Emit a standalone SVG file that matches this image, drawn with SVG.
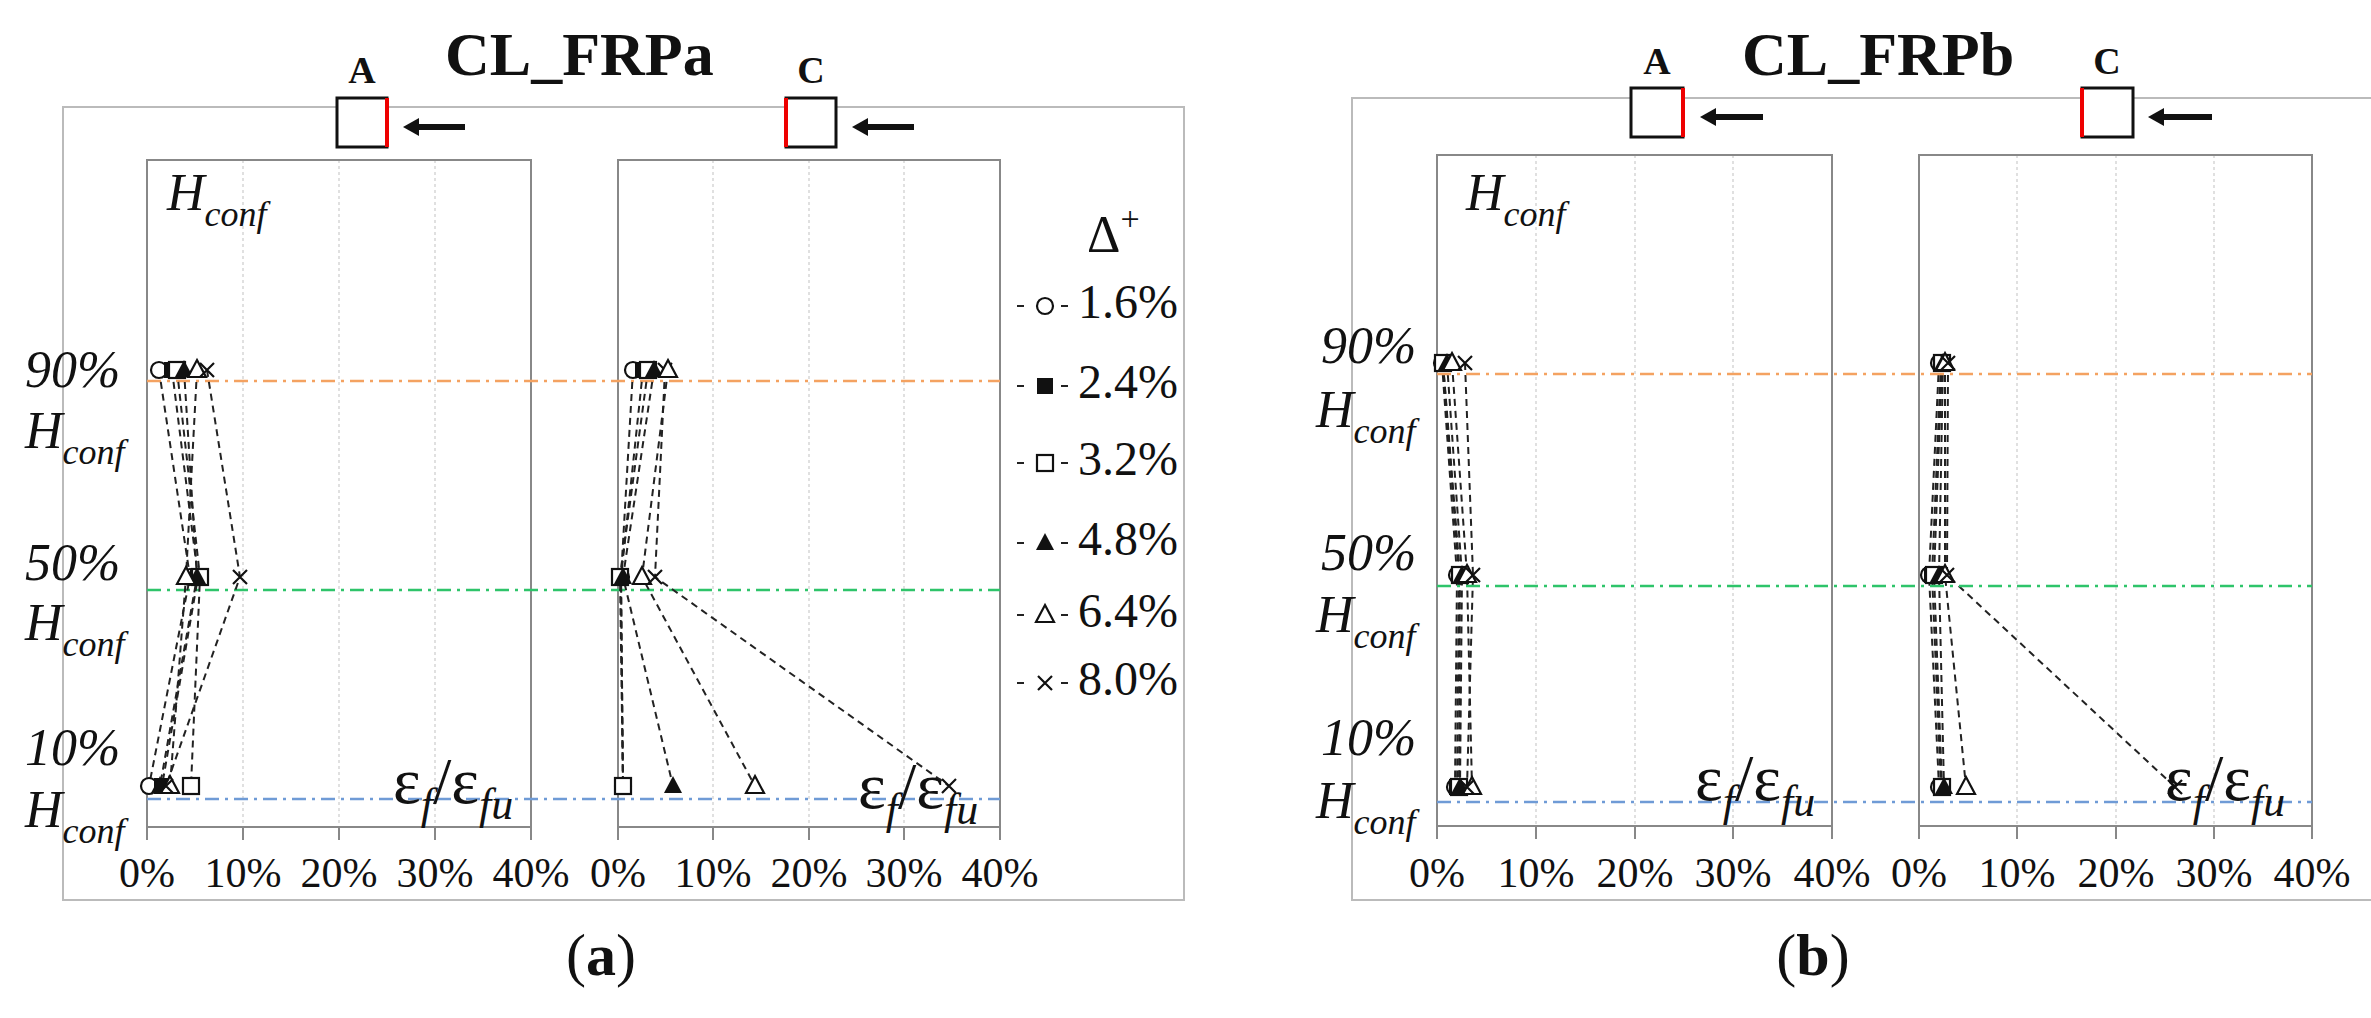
<svg xmlns="http://www.w3.org/2000/svg" xmlns:xlink="http://www.w3.org/1999/xlink" width="2371" height="1018" viewBox="0 0 2371 1018">
<style>
text{font-family:"Liberation Serif","Times New Roman",serif;fill:#111}
.frame{fill:none;stroke:#bbb;stroke-width:2}
.box{fill:none;stroke:#888;stroke-width:2}
.grid{stroke:#ccc;stroke-width:1.2;stroke-dasharray:3 3}
.tick{stroke:#888;stroke-width:2}
.or{stroke:#f4a261;stroke-width:2.5;stroke-dasharray:14 6 3 6;fill:none}
.gr{stroke:#2ec46a;stroke-width:2.5;stroke-dasharray:14 6 3 6;fill:none}
.bl{stroke:#6f9bd6;stroke-width:2.5;stroke-dasharray:14 6 3 6;fill:none}
.ser{fill:none;stroke:#222;stroke-width:2;stroke-dasharray:7 5}
.tk{font-size:42px;text-anchor:middle}
.lab{font-size:52px;font-style:italic}
.sub{font-size:36px;font-style:italic}
.eps{font-size:66px}
.esub{font-size:44px;font-style:italic}
.leg{font-size:48px}
.ttl{font-size:62px;font-weight:bold}
.sec{font-size:38px;font-weight:bold;text-anchor:middle}
.cap{font-size:60px;text-anchor:middle}
.sq{fill:#fff;stroke:#111;stroke-width:3}
.red{stroke:#e00;stroke-width:4}
.arr{stroke:#111;stroke-width:6}
</style>
<defs>
<g id="m-circ"><circle r="8" fill="#fff" stroke="#111" stroke-width="2.2"/></g>
<g id="m-fsq"><rect x="-8" y="-8" width="16" height="16" fill="#111"/></g>
<g id="m-osq"><rect x="-8" y="-8" width="16" height="16" fill="#fff" stroke="#111" stroke-width="2.2"/></g>
<g id="m-ftri"><polygon points="0,-10 9,7 -9,7" fill="#111"/></g>
<g id="m-otri"><polygon points="0,-10 9,7 -9,7" fill="#fff" stroke="#111" stroke-width="2.2"/></g>
<g id="m-x"><path d="M-7,-7 L7,7 M-7,7 L7,-7" stroke="#111" stroke-width="2.2"/></g>
<polygon id="ah" points="0,0 16,-9 16,9" fill="#111"/>
</defs>

<!-- ===== Panel (a) ===== -->
<g id="panel-a">
<rect class="frame" x="63" y="107" width="1121" height="793"/>
<text class="ttl" x="445" y="75">CL_FRPa</text>
<g id="sec-a-A">
<text class="sec" x="362" y="83">A</text>
<rect class="sq" x="337" y="98" width="50" height="49"/>
<line class="red" x1="387" y1="98" x2="387" y2="147"/>
<line class="arr" x1="415" y1="127" x2="465" y2="127"/><use href="#ah" x="403" y="127"/>
</g>
<g id="sec-a-C">
<text class="sec" x="811" y="83">C</text>
<rect class="sq" x="786" y="98" width="50" height="49"/>
<line class="red" x1="786" y1="98" x2="786" y2="147"/>
<line class="arr" x1="864" y1="127" x2="914" y2="127"/><use href="#ah" x="852" y="127"/>
</g>
<g>
<line class="grid" x1="243" y1="160" x2="243" y2="827"/><line class="grid" x1="339" y1="160" x2="339" y2="827"/><line class="grid" x1="435" y1="160" x2="435" y2="827"/>
<line class="grid" x1="713" y1="160" x2="713" y2="827"/><line class="grid" x1="809" y1="160" x2="809" y2="827"/><line class="grid" x1="904" y1="160" x2="904" y2="827"/>
</g>
<rect class="box" x="147" y="160" width="384" height="667"/>
<rect class="box" x="618" y="160" width="382" height="667"/>
<path class="tick" d="M147,827v13M243,827v13M339,827v13M435,827v13M531,827v13M618,827v13M713,827v13M809,827v13M904,827v13M1000,827v13"/>
<g>
<text class="tk" x="147" y="887">0%</text><text class="tk" x="243" y="887">10%</text><text class="tk" x="339" y="887">20%</text><text class="tk" x="435" y="887">30%</text><text class="tk" x="531" y="887">40%</text>
<text class="tk" x="618" y="887">0%</text><text class="tk" x="713" y="887">10%</text><text class="tk" x="809" y="887">20%</text><text class="tk" x="904" y="887">30%</text><text class="tk" x="1000" y="887">40%</text>
</g>
<line class="or" x1="147" y1="381" x2="1000" y2="381"/>
<line class="gr" x1="147" y1="590" x2="1000" y2="590"/>
<line class="bl" x1="147" y1="799" x2="1000" y2="799"/>
<text class="lab" x="167" y="210">H<tspan class="sub" dy="16">conf</tspan></text>
<text class="lab" x="25" y="387">90%</text>
<text class="lab" x="25" y="448">H<tspan class="sub" dy="16">conf</tspan></text>
<text class="lab" x="25" y="580">50%</text>
<text class="lab" x="25" y="640">H<tspan class="sub" dy="16">conf</tspan></text>
<text class="lab" x="25" y="765">10%</text>
<text class="lab" x="25" y="827">H<tspan class="sub" dy="16">conf</tspan></text>
<text class="eps" x="393" y="803">ε<tspan class="esub" dy="16">f</tspan><tspan dy="-16">/ε</tspan><tspan class="esub" dy="16">fu</tspan></text>
<text class="eps" x="858" y="808">ε<tspan class="esub" dy="16">f</tspan><tspan dy="-16">/ε</tspan><tspan class="esub" dy="16">fu</tspan></text>
<g id="legend">
<text x="1087" y="252" style="font-size:52px">Δ<tspan dy="-22" style="font-size:34px">+</tspan></text>
<g><path class="ser" d="M1017,306h12M1061,306h12" stroke-dasharray="none"/><use href="#m-circ" x="1045" y="306"/><text class="leg" x="1078" y="318">1.6%</text></g>
<g><path class="ser" d="M1017,386h12M1061,386h12" stroke-dasharray="none"/><use href="#m-fsq" x="1045" y="386"/><text class="leg" x="1078" y="398">2.4%</text></g>
<g><path class="ser" d="M1017,463h12M1061,463h12" stroke-dasharray="none"/><use href="#m-osq" x="1045" y="463"/><text class="leg" x="1078" y="475">3.2%</text></g>
<g><path class="ser" d="M1017,543h12M1061,543h12" stroke-dasharray="none"/><use href="#m-ftri" x="1045" y="543"/><text class="leg" x="1078" y="555">4.8%</text></g>
<g><path class="ser" d="M1017,615h12M1061,615h12" stroke-dasharray="none"/><use href="#m-otri" x="1045" y="615"/><text class="leg" x="1078" y="627">6.4%</text></g>
<g><path class="ser" d="M1017,683h12M1061,683h12" stroke-dasharray="none"/><use href="#m-x" x="1045" y="683"/><text class="leg" x="1078" y="695">8.0%</text></g>
</g>
<text class="cap" x="601" y="975">(<tspan font-weight="bold">a</tspan>)</text>
</g>

<g id="connectors">
<path class="ser" d="M159,370L190,577L149,786"/>
<path class="ser" d="M172,370L198,577L162,786"/>
<path class="ser" d="M177,370L200,577L191,786"/>
<path class="ser" d="M184,370L197,577L160,786"/>
<path class="ser" d="M197,370L186,577L170,786"/>
<path class="ser" d="M207,370L240,577L166,786"/>
<path class="ser" d="M633,370L621,577L623,786"/>
<path class="ser" d="M643,370L621,577L623,786"/>
<path class="ser" d="M648,370L620,577L623,786"/>
<path class="ser" d="M654,370L623,577L673,786"/>
<path class="ser" d="M668,370L642,577L755,786"/>
<path class="ser" d="M665,370L655,577L949,786"/>
<path class="ser" d="M1442,363L1457,575L1455,787"/>
<path class="ser" d="M1443,363L1459,575L1457,787"/>
<path class="ser" d="M1443,363L1460,575L1459,787"/>
<path class="ser" d="M1447,363L1462,575L1460,787"/>
<path class="ser" d="M1452,363L1467,575L1472,787"/>
<path class="ser" d="M1465,363L1473,575L1467,787"/>
<path class="ser" d="M1939,363L1929,575L1939,787"/>
<path class="ser" d="M1941,363L1932,575L1941,787"/>
<path class="ser" d="M1942,363L1934,575L1942,787"/>
<path class="ser" d="M1943,363L1939,575L1944,787"/>
<path class="ser" d="M1945,363L1945,575L1966,787"/>
<path class="ser" d="M1948,363L1947,575L2175,787"/>
</g>

<g id="points-a">
<use href="#m-circ" x="159" y="370"/><use href="#m-fsq" x="172" y="370"/><use href="#m-osq" x="177" y="370"/><use href="#m-ftri" x="184" y="370"/><use href="#m-otri" x="197" y="370"/><use href="#m-x" x="207" y="370"/>
<use href="#m-circ" x="190" y="577"/><use href="#m-fsq" x="198" y="577"/><use href="#m-osq" x="200" y="577"/><use href="#m-ftri" x="197" y="577"/><use href="#m-otri" x="186" y="577"/><use href="#m-x" x="240" y="577"/>
<use href="#m-circ" x="149" y="786"/><use href="#m-fsq" x="162" y="786"/><use href="#m-osq" x="191" y="786"/><use href="#m-ftri" x="160" y="786"/><use href="#m-otri" x="170" y="786"/><use href="#m-x" x="166" y="786"/>
<use href="#m-circ" x="633" y="370"/><use href="#m-fsq" x="643" y="370"/><use href="#m-osq" x="648" y="370"/><use href="#m-ftri" x="654" y="370"/><use href="#m-x" x="665" y="370"/><use href="#m-otri" x="668" y="370"/>
<use href="#m-circ" x="621" y="577"/><use href="#m-fsq" x="621" y="577"/><use href="#m-osq" x="620" y="577"/><use href="#m-ftri" x="623" y="577"/><use href="#m-otri" x="642" y="577"/><use href="#m-x" x="655" y="577"/>
<use href="#m-circ" x="623" y="786"/><use href="#m-fsq" x="623" y="786"/><use href="#m-osq" x="623" y="786"/><use href="#m-ftri" x="673" y="786"/><use href="#m-otri" x="755" y="786"/><use href="#m-x" x="949" y="786"/>
</g>

<!-- ===== Panel (b) ===== -->
<g id="panel-b">
<path class="frame" d="M2371,98H1352V900H2371"/>
<text class="ttl" x="1742" y="75">CL_FRPb</text>
<g id="sec-b-A">
<text class="sec" x="1657" y="74">A</text>
<rect class="sq" x="1631" y="88" width="52" height="49"/>
<line class="red" x1="1683" y1="88" x2="1683" y2="137"/>
<line class="arr" x1="1712" y1="117" x2="1763" y2="117"/><use href="#ah" x="1700" y="117"/>
</g>
<g id="sec-b-C">
<text class="sec" x="2107" y="74">C</text>
<rect class="sq" x="2082" y="88" width="51" height="49"/>
<line class="red" x1="2082" y1="88" x2="2082" y2="137"/>
<line class="arr" x1="2160" y1="117" x2="2212" y2="117"/><use href="#ah" x="2148" y="117"/>
</g>
<g>
<line class="grid" x1="1536" y1="155" x2="1536" y2="826"/><line class="grid" x1="1635" y1="155" x2="1635" y2="826"/><line class="grid" x1="1733" y1="155" x2="1733" y2="826"/>
<line class="grid" x1="2017" y1="155" x2="2017" y2="826"/><line class="grid" x1="2116" y1="155" x2="2116" y2="826"/><line class="grid" x1="2214" y1="155" x2="2214" y2="826"/>
</g>
<rect class="box" x="1437" y="155" width="395" height="671"/>
<rect class="box" x="1919" y="155" width="393" height="671"/>
<path class="tick" d="M1437,826v13M1536,826v13M1635,826v13M1733,826v13M1832,826v13M1919,826v13M2017,826v13M2116,826v13M2214,826v13M2312,826v13"/>
<g>
<text class="tk" x="1437" y="887">0%</text><text class="tk" x="1536" y="887">10%</text><text class="tk" x="1635" y="887">20%</text><text class="tk" x="1733" y="887">30%</text><text class="tk" x="1832" y="887">40%</text>
<text class="tk" x="1919" y="887">0%</text><text class="tk" x="2017" y="887">10%</text><text class="tk" x="2116" y="887">20%</text><text class="tk" x="2214" y="887">30%</text><text class="tk" x="2312" y="887">40%</text>
</g>
<line class="or" x1="1437" y1="374" x2="2312" y2="374"/>
<line class="gr" x1="1437" y1="586" x2="2312" y2="586"/>
<line class="bl" x1="1437" y1="802" x2="2312" y2="802"/>
<text class="lab" x="1466" y="210">H<tspan class="sub" dy="16">conf</tspan></text>
<text class="lab" x="1321" y="363">90%</text>
<text class="lab" x="1316" y="427">H<tspan class="sub" dy="16">conf</tspan></text>
<text class="lab" x="1321" y="570">50%</text>
<text class="lab" x="1316" y="632">H<tspan class="sub" dy="16">conf</tspan></text>
<text class="lab" x="1321" y="755">10%</text>
<text class="lab" x="1316" y="818">H<tspan class="sub" dy="16">conf</tspan></text>
<text class="eps" x="1695" y="800">ε<tspan class="esub" dy="16">f</tspan><tspan dy="-16">/ε</tspan><tspan class="esub" dy="16">fu</tspan></text>
<text class="eps" x="2165" y="800">ε<tspan class="esub" dy="16">f</tspan><tspan dy="-16">/ε</tspan><tspan class="esub" dy="16">fu</tspan></text>
<text class="cap" x="1813" y="975">(<tspan font-weight="bold">b</tspan>)</text>
</g>

<g id="points-b">
<use href="#m-circ" x="1442" y="363"/><use href="#m-fsq" x="1443" y="363"/><use href="#m-osq" x="1443" y="363"/><use href="#m-ftri" x="1447" y="363"/><use href="#m-otri" x="1452" y="363"/><use href="#m-x" x="1465" y="363"/>
<use href="#m-circ" x="1457" y="575"/><use href="#m-fsq" x="1459" y="575"/><use href="#m-osq" x="1460" y="575"/><use href="#m-ftri" x="1462" y="575"/><use href="#m-otri" x="1467" y="575"/><use href="#m-x" x="1473" y="575"/>
<use href="#m-circ" x="1455" y="787"/><use href="#m-fsq" x="1457" y="787"/><use href="#m-osq" x="1459" y="787"/><use href="#m-ftri" x="1460" y="787"/><use href="#m-otri" x="1472" y="787"/><use href="#m-x" x="1467" y="787"/>
<use href="#m-circ" x="1939" y="363"/><use href="#m-fsq" x="1941" y="363"/><use href="#m-osq" x="1942" y="363"/><use href="#m-ftri" x="1943" y="363"/><use href="#m-otri" x="1945" y="363"/><use href="#m-x" x="1948" y="363"/>
<use href="#m-circ" x="1929" y="575"/><use href="#m-fsq" x="1932" y="575"/><use href="#m-osq" x="1934" y="575"/><use href="#m-ftri" x="1939" y="575"/><use href="#m-otri" x="1945" y="575"/><use href="#m-x" x="1947" y="575"/>
<use href="#m-circ" x="1939" y="787"/><use href="#m-fsq" x="1941" y="787"/><use href="#m-osq" x="1942" y="787"/><use href="#m-ftri" x="1944" y="787"/><use href="#m-otri" x="1966" y="787"/><use href="#m-x" x="2175" y="787"/>
</g>
</svg>
